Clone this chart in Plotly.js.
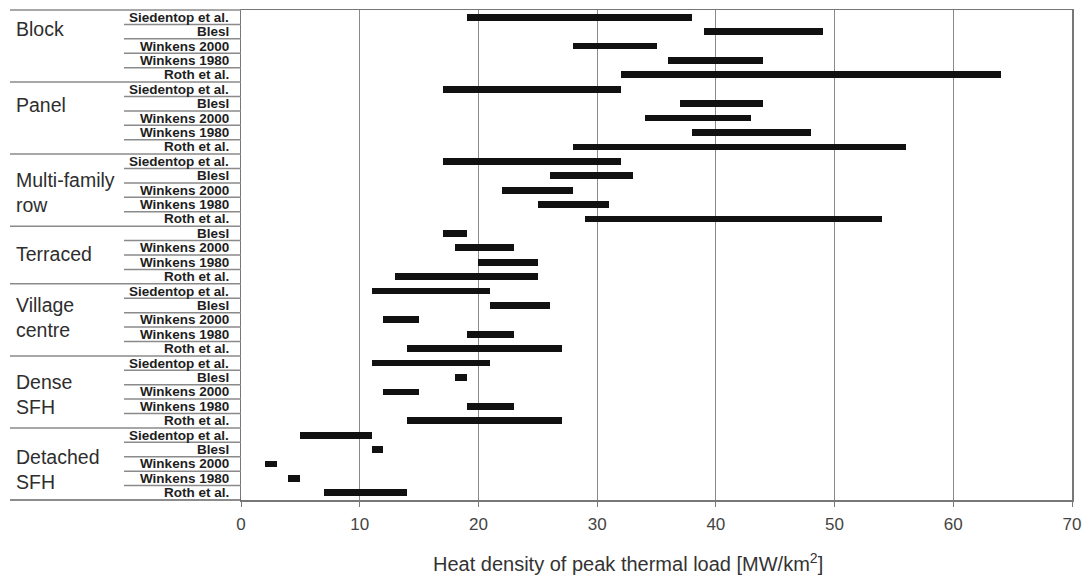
<!DOCTYPE html>
<html>
<head>
<meta charset="utf-8">
<script src="https://cdn.plot.ly/plotly-3.0.1.min.js"></script>
<style>
  html, body { margin: 0; padding: 0; background: #fff; }
  #chart { width: 1090px; height: 577px; }
</style>
</head>
<body>
<div id="chart"></div>
<script>
// Settlement types (row groups) and the studies quoted for each
const groupLabels = ['Block', 'Panel', 'Multi-family<br>row', 'Terraced', 'Village<br>centre', 'Dense<br>SFH', 'Detached<br>SFH'];

const groupSources = [
  ['Siedentop et al.', 'Blesl', 'Winkens 2000', 'Winkens 1980', 'Roth et al.'],
  ['Siedentop et al.', 'Blesl', 'Winkens 2000', 'Winkens 1980', 'Roth et al.'],
  ['Siedentop et al.', 'Blesl', 'Winkens 2000', 'Winkens 1980', 'Roth et al.'],
  ['Blesl', 'Winkens 2000', 'Winkens 1980', 'Roth et al.'],
  ['Siedentop et al.', 'Blesl', 'Winkens 2000', 'Winkens 1980', 'Roth et al.'],
  ['Siedentop et al.', 'Blesl', 'Winkens 2000', 'Winkens 1980', 'Roth et al.'],
  ['Siedentop et al.', 'Blesl', 'Winkens 2000', 'Winkens 1980', 'Roth et al.']
];

// Range of peak heat density per study [MW/km²]: lower and upper bound
const lowVals = [
  [19, 39, 28, 36, 32],
  [17, 37, 34, 38, 28],
  [17, 26, 22, 25, 29],
  [17, 18, 20, 13],
  [11, 21, 12, 19, 14],
  [11, 18, 12, 19, 14],
  [5, 11, 2, 4, 7]
];
const highVals = [
  [38, 49, 35, 44, 64],
  [32, 44, 43, 48, 56],
  [32, 33, 28, 31, 54],
  [19, 23, 25, 25],
  [21, 26, 15, 23, 27],
  [21, 19, 15, 23, 27],
  [11, 12, 3, 5, 14]
];

const xTicks = [0, 10, 20, 30, 40, 50, 60, 70];

// Vertical placement (in row units) of each group caption
const groupLabelRow = [0.85, 6.1, 12.15, 16.45, 20.85, 26.15, 31.35];

// Flatten groups into one row per study, top to bottom
const rowY = [], rowBase = [], rowLen = [], rowSource = [];
const groupStart = [];
let r = 0;
groupSources.forEach((srcs, g) => {
  groupStart.push(r);
  srcs.forEach((s, i) => {
    rowY.push(r);
    rowBase.push(lowVals[g][i]);
    rowLen.push(highVals[g][i] - lowVals[g][i]);
    rowSource.push(s);
    r++;
  });
});
const nRows = r;

const plotLeft = 241, plotRight = 1072;
const plotW = plotRight - plotLeft;
const pxToPaperX = px => (px - plotLeft) / plotW;
const boundaryY = k => 1 - k / nRows;

const lineColor = '#8a8a8a';
const shapes = [];
// outer top and bottom rules running across the label table
shapes.push({type: 'line', xref: 'paper', yref: 'paper', x0: pxToPaperX(10), x1: 0, y0: 1, y1: 1, line: {color: lineColor, width: 1.5}});
shapes.push({type: 'line', xref: 'paper', yref: 'paper', x0: pxToPaperX(10), x1: 0, y0: 0, y1: 0, line: {color: '#666', width: 1.5}});
for (let k = 1; k < nRows; k++) {
  const isGroup = groupStart.indexOf(k) >= 0;
  shapes.push({
    type: 'line', xref: 'paper', yref: 'paper',
    x0: isGroup ? pxToPaperX(10) : pxToPaperX(124), x1: 0,
    y0: boundaryY(k), y1: boundaryY(k),
    line: {color: lineColor, width: 1.5}
  });
}

const annotations = [];
rowSource.forEach((s, i) => {
  annotations.push({
    xref: 'paper', yref: 'y', x: pxToPaperX(231), y: rowY[i],
    xanchor: 'right', yanchor: 'middle', showarrow: false,
    text: '<b>' + s + '</b>',
    font: {family: 'Liberation Sans, Arial, sans-serif', size: 13.5, color: '#1e1e1e'}
  });
});
groupLabels.forEach((g, i) => {
  annotations.push({
    xref: 'paper', yref: 'y', x: pxToPaperX(14), y: groupLabelRow[i],
    xanchor: 'left', yanchor: 'middle', align: 'left', showarrow: false,
    text: g,
    font: {family: 'Liberation Sans, Arial, sans-serif', size: 19.5, color: '#2e2e2e'}
  });
});
annotations.push({
  xref: 'paper', yref: 'paper', x: pxToPaperX(627.5), y: -0.127,
  xanchor: 'center', yanchor: 'middle', showarrow: false,
  text: 'Heat density of peak thermal load [MW/km<sup>2</sup>]',
  font: {family: 'Liberation Sans, Arial, sans-serif', size: 20, color: '#333'}
});

const trace = {
  type: 'bar', orientation: 'h',
  y: rowY, x: rowLen, base: rowBase,
  width: 0.47,
  marker: {color: '#111111', line: {width: 0}},
  hoverinfo: 'skip'
};

const layout = {
  width: 1090, height: 577,
  margin: {l: plotLeft, r: 1090 - plotRight, t: 10, b: 77},
  paper_bgcolor: '#ffffff', plot_bgcolor: '#ffffff',
  showlegend: false,
  bargap: 0,
  xaxis: {
    range: [0, 70], tickvals: xTicks, ticktext: xTicks.map(String),
    showgrid: true, gridcolor: '#8a8a8a', gridwidth: 1,
    zeroline: false, showline: true, linecolor: '#777', linewidth: 1.5, mirror: true,
    ticks: 'outside', ticklen: 5, tickcolor: '#777', tickwidth: 1,
    ticklabelstandoff: 3,
    tickfont: {family: 'Liberation Sans, Arial, sans-serif', size: 17, color: '#444'},
    fixedrange: true
  },
  yaxis: {
    range: [nRows - 0.5, -0.5],
    showgrid: false, zeroline: false, showticklabels: false, ticks: '',
    showline: true, linecolor: '#777', linewidth: 1.5, mirror: true,
    fixedrange: true
  },
  shapes: shapes,
  annotations: annotations
};

Plotly.newPlot('chart', [trace], layout, {displayModeBar: false, staticPlot: true});
</script>
</body>
</html>
